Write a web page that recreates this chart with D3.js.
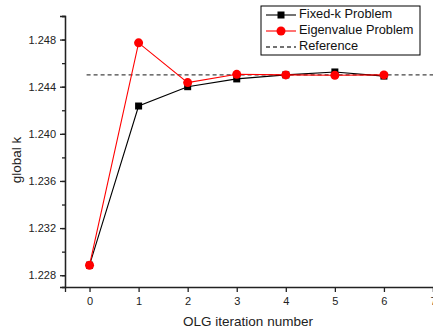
<!DOCTYPE html>
<html>
<head>
<meta charset="utf-8">
<script src="https://cdn.jsdelivr.net/npm/d3@7"></script>
<style>
  body { margin: 0; background: #fff; }
  text { font-family: 'Liberation Sans', Arial, sans-serif; }
</style>
</head>
<body>
<div id="chart"></div>
<script>
const iterations = [0, 1, 2, 3, 4, 5, 6]
const fixedK = [1.22885, 1.24236, 1.2440, 1.24466, 1.2450, 1.24525, 1.2449]
const eigenvalue = [1.22885, 1.24772, 1.24435, 1.24505, 1.2450, 1.24497, 1.2450]
const referenceX = [-0.06, 7]
const referenceK = 1.2450
const xTicks = [0, 1, 2, 3, 4, 5, 6, 7]
const yTicks = [1.228, 1.232, 1.236, 1.240, 1.244, 1.248]
const legendLabels = ['Fixed-k Problem', 'Eigenvalue Problem', 'Reference']

const margin = { top: 16, right: 0, bottom: 47, left: 65 }
const width = 433 - margin.left - margin.right
const height = 334 - margin.top - margin.bottom

const svg = d3
  .select('#chart')
  .append('svg')
  .attr('width', 433)
  .attr('height', 334)
  .append('g')
  .attr('transform', `translate(${margin.left}, ${margin.top})`)

const x = d3.scaleLinear().domain([-0.5, 7]).range([0, width])
const y = d3.scaleLinear().domain([1.227, 1.250]).range([height, 0])

// minor y ticks
svg
  .append('g')
  .attr('class', 'axis y-minor')
  .call(d3.axisLeft(y).tickValues(d3.range(1.228, 1.2501, 0.002)).tickSize(3).tickFormat(''))

svg
  .append('g')
  .attr('class', 'axis y-axis')
  .call(d3.axisLeft(y).tickValues(yTicks).tickSize(5).tickPadding(4).tickFormat(d3.format('.3f')))

svg
  .append('g')
  .attr('class', 'axis x-axis')
  .attr('transform', `translate(0, ${height})`)
  .call(d3.axisBottom(x).tickValues(xTicks).tickSize(5).tickPadding(5).tickFormat(d3.format('d')))

svg.selectAll('.axis path, .axis line').attr('stroke', '#222').attr('stroke-width', 1.3)
svg.selectAll('.axis text').attr('font-size', 11).attr('fill', '#222')
  .attr('font-family', "'Liberation Sans', Arial, sans-serif")

// reference line
svg
  .append('line')
  .attr('x1', x(referenceX[0]))
  .attr('x2', x(referenceX[1]))
  .attr('y1', y(referenceK))
  .attr('y2', y(referenceK))
  .attr('stroke', '#444')
  .attr('stroke-width', 1.3)
  .attr('stroke-dasharray', '4,3')

const line = d3.line().x(d => x(d[0])).y(d => y(d[1]))
const fixedData = iterations.map((d, i) => [d, fixedK[i]])
const eigenData = iterations.map((d, i) => [d, eigenvalue[i]])

svg.append('path').datum(fixedData).attr('d', line)
  .attr('fill', 'none').attr('stroke', '#000').attr('stroke-width', 1.1)

svg.selectAll('.fixed').data(fixedData).enter().append('rect')
  .attr('class', 'fixed')
  .attr('x', d => x(d[0]) - 3.5)
  .attr('y', d => y(d[1]) - 3.5)
  .attr('width', 7).attr('height', 7)
  .attr('fill', '#000')

svg.append('path').datum(eigenData).attr('d', line)
  .attr('fill', 'none').attr('stroke', '#f00').attr('stroke-width', 1.1)

svg.selectAll('.eigen').data(eigenData).enter().append('circle')
  .attr('class', 'eigen')
  .attr('cx', d => x(d[0]))
  .attr('cy', d => y(d[1]))
  .attr('r', 4.5)
  .attr('fill', '#f00')

// axis titles
svg.append('text')
  .attr('transform', `translate(${17 - margin.left}, ${160 - margin.top}) rotate(-90)`)
  .attr('text-anchor', 'middle')
  .attr('dominant-baseline', 'middle')
  .attr('font-size', 13.5)
  .attr('fill', '#222')
  .text('global k')

svg.append('text')
  .attr('x', 248 - margin.left)
  .attr('y', 322 - margin.top)
  .attr('text-anchor', 'middle')
  .attr('dominant-baseline', 'middle')
  .attr('font-size', 13.5)
  .attr('fill', '#222')
  .text('OLG iteration number')

// legend
const legend = d3.select('svg').append('g').attr('transform', 'translate(261, 6)')
legend.append('rect')
  .attr('width', 159).attr('height', 49)
  .attr('fill', '#fff').attr('stroke', '#000').attr('stroke-width', 1)

legendLabels.forEach((label, i) => {
  const cy = 9 + i * 16
  const g = legend.append('g').attr('transform', `translate(0, ${cy})`)
  if (i === 2) {
    g.append('line').attr('x1', 5).attr('x2', 35).attr('y1', 0).attr('y2', 0)
      .attr('stroke', '#444').attr('stroke-width', 1.3).attr('stroke-dasharray', '4,3')
  } else {
    g.append('line').attr('x1', 5).attr('x2', 35).attr('y1', 0).attr('y2', 0)
      .attr('stroke', i === 0 ? '#000' : '#f00').attr('stroke-width', 1.1)
    if (i === 0) {
      g.append('rect').attr('x', 16.5).attr('y', -3.5).attr('width', 7).attr('height', 7).attr('fill', '#000')
    } else {
      g.append('circle').attr('cx', 20).attr('cy', 0).attr('r', 4.5).attr('fill', '#f00')
    }
  }
  g.append('text')
    .attr('x', 38).attr('y', 0)
    .attr('dominant-baseline', 'middle')
    .attr('font-size', 12.8)
    .attr('fill', '#111')
    .text(label)
})
</script>
</body>
</html>
